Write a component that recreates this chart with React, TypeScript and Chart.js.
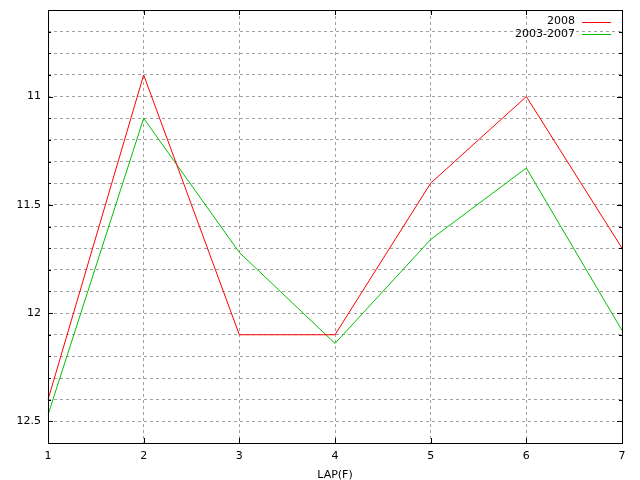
import React, { useEffect, useRef } from "react";
import { Chart, registerables } from "chart.js";

Chart.register(...registerables);

const laps = ["1", "2", "3", "4", "5", "6", "7"];
const series2008 = [12.4, 10.9, 12.1, 12.1, 11.4, 11.0, 11.7];
const series2003to2007 = [12.47, 11.1, 11.72, 12.14, 11.66, 11.33, 12.08];
const seriesNames = ["2008", "2003-2007"];
const seriesColors = ["#ff0000", "#00c000"];
const yMin = 10.6;
const yMax = 12.6;
const xTitle = "LAP(F)";

const FONT = "DejaVu Sans";

const framePlugin = {
  id: "gnuframe",
  afterDatasetsDraw(chart: any) {
    const { ctx, chartArea: a, scales } = chart;
    ctx.save();
    ctx.strokeStyle = "#000";
    ctx.lineWidth = 1;
    ctx.setLineDash([]);
    // ticks
    ctx.beginPath();
    const ys = scales.y;
    ys.ticks.forEach((t: any) => {
      const py = Math.round(ys.getPixelForValue(t.value)) + 0.5;
      const major = Math.abs(t.value * 2 - Math.round(t.value * 2)) < 1e-6;
      const len = major ? 5 : 3;
      ctx.moveTo(a.left, py);
      ctx.lineTo(a.left + len, py);
      ctx.moveTo(a.right, py);
      ctx.lineTo(a.right - len, py);
    });
    const xs = scales.x;
    laps.forEach((_l, i) => {
      const px = Math.round(xs.getPixelForValue(i)) + 0.5;
      ctx.moveTo(px, a.bottom);
      ctx.lineTo(px, a.bottom - 5);
      ctx.moveTo(px, a.top);
      ctx.lineTo(px, a.top + 5);
    });
    ctx.stroke();
    // frame
    ctx.strokeRect(
      Math.round(a.left) + 0.5,
      Math.round(a.top) + 0.5,
      Math.round(a.right - a.left),
      Math.round(a.bottom - a.top)
    );
    // legend
    ctx.font = `11px "${FONT}"`;
    ctx.textAlign = "right";
    ctx.textBaseline = "middle";
    chart.data.datasets.forEach((ds: any, i: number) => {
      const y = 21.5 + i * 12.3;
      ctx.fillStyle = "#000";
      ctx.fillText(ds.label, a.right - 47, y);
      ctx.strokeStyle = ds.borderColor;
      ctx.beginPath();
      const ly = Math.round(y) + 0.5;
      ctx.moveTo(a.right - 40, ly);
      ctx.lineTo(a.right - 11, ly);
      ctx.stroke();
    });
    ctx.restore();
  },
};

export default function App() {
  const ref = useRef<HTMLCanvasElement>(null);
  useEffect(() => {
    if (!ref.current) return;
    const chart = new Chart(ref.current, {
      type: "line",
      data: {
        labels: laps,
        datasets: [
          {
            label: seriesNames[0],
            data: series2008,
            borderColor: seriesColors[0],
            backgroundColor: seriesColors[0],
            borderWidth: 1,
            pointRadius: 0,
            tension: 0,
          },
          {
            label: seriesNames[1],
            data: series2003to2007,
            borderColor: seriesColors[1],
            backgroundColor: seriesColors[1],
            borderWidth: 1,
            pointRadius: 0,
            tension: 0,
          },
        ],
      },
      options: {
        animation: false,
        responsive: false,
        layout: { padding: { top: 10, right: 18, left: 0, bottom: 0 } },
        plugins: {
          legend: { display: false },
          tooltip: { enabled: false },
        },
        scales: {
          x: {
            type: "category",
            offset: false,
            grid: { color: "#a0a0a0", drawTicks: false, lineWidth: 1 },
            border: { display: false, dash: [3, 3] },
            ticks: {
              color: "#000",
              font: { family: FONT, size: 11 },
              padding: 7,
              maxRotation: 0,
              autoSkip: false,
            },
            title: {
              display: true,
              text: xTitle,
              color: "#000",
              font: { family: FONT, size: 11 },
              padding: { top: 0, bottom: -1.5 },
            },
            afterFit(scale: any) {
              scale.height = 37;
              scale.paddingLeft = 0;
              scale.paddingRight = 0;
            },
          },
          y: {
            type: "linear",
            reverse: true,
            min: yMin,
            max: yMax,
            grid: { color: "#a0a0a0", drawTicks: false, lineWidth: 1 },
            border: { display: false, dash: [3, 3] },
            ticks: {
              stepSize: 0.1,
              color: "#000",
              font: { family: FONT, size: 11 },
              padding: 7,
              autoSkip: false,
              callback(value: any) {
                const v = Number(value);
                if (Math.abs(v * 2 - Math.round(v * 2)) < 1e-6) {
                  return String(Math.round(v * 2) / 2);
                }
                return "";
              },
            },
            afterFit(scale: any) {
              scale.width = 48;
              scale.paddingTop = 0;
              scale.paddingBottom = 0;
            },
          },
        },
      },
      plugins: [framePlugin],
    });
    return () => chart.destroy();
  }, []);
  return (
    <div style={{ position: "fixed", left: 0, top: 0, width: 640, height: 480, background: "#fff" }}>
      <canvas ref={ref} width={640} height={480} />
    </div>
  );
}
